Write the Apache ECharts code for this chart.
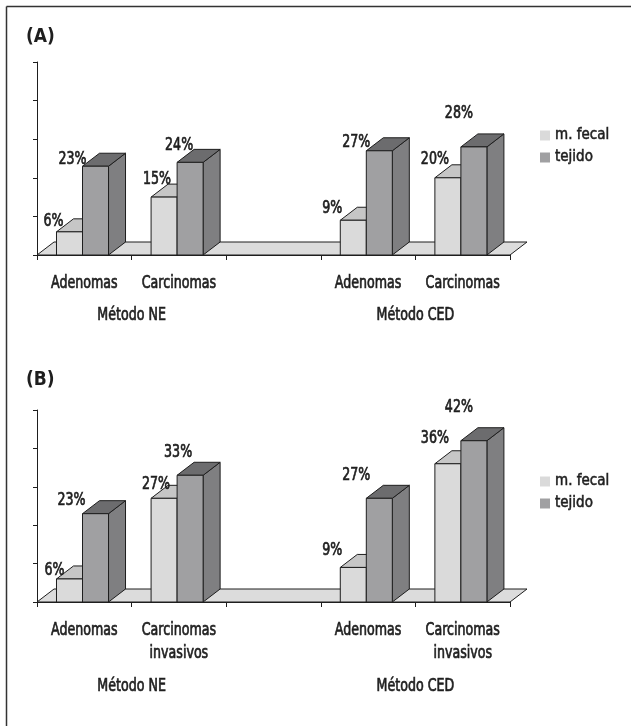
<!DOCTYPE html>
<html>
<head>
<meta charset="utf-8">
<script src="https://cdn.jsdelivr.net/npm/echarts@6/dist/echarts.min.js"></script>
<style>
  html, body { margin: 0; padding: 0; background: #fff; }
  #chart { width: 631px; height: 726px; }
</style>
</head>
<body>
<div id="chart"></div>
<script>
// ---- data ----
const categoriesA = ['Adenomas', 'Carcinomas', '', 'Adenomas', 'Carcinomas'];
const categoriesB = ['Adenomas', 'Carcinomas\ninvasivos', '', 'Adenomas', 'Carcinomas\ninvasivos'];
const groupNames = ['Método NE', 'Método CED'];
const groupSpans = [[0, 1], [3, 4]];
const seriesNames = ['m. fecal', 'tejido'];
const fecalA = [6, 15, null, 9, 20];
const tejidoA = [23, 24, null, 27, 28];
const fecalB = [6, 27, null, 9, 36];
const tejidoB = [23, 33, null, 27, 42];
const valueTicks = [0, 10, 20, 30, 40, 50];

// ---- layout / style ----
const FONT = '"DejaVu Sans Condensed", "Liberation Sans Narrow", sans-serif';
const TEXT_FONT = '18px ' + FONT;
const NARROW = 0.78;                   // horizontal squeeze for a condensed look
const INK = '#1e1e1e';
const DEPTH_X = 17, DEPTH_Y = 13;      // oblique depth of the pseudo-3D boxes
const BAR_W = 0.275;                   // bar width as share of a category band
const FRONT_OFF = -0.294;              // first bar's left edge, relative to band centre
const palette = {
  'm. fecal': { front: '#dadada', top: '#c6c6c6', side: '#b4b4b4' },
  'tejido':   { front: '#a0a0a2', top: '#6c6c6e', side: '#7f7f81' }
};
// label nudges [dx, dy] from the bar's front-top-left corner
const nudgeA = {
  'm. fecal': [[-3, -11], [6, -18], null, [-8, -12], [0, -18]],
  'tejido':   [[-10, -7], [2, -17], null, [-10, -8], [-2, -34]]
};
const nudgeB = {
  'm. fecal': [[-2, -9], [5, -14], null, [-8, -17], [0, -25]],
  'tejido':   [[-11, -13], [1, -23], null, [-10, -23], [-2, -33]]
};

function toData(arr) {
  return arr.map((v, i) => (v == null ? null : [i, v])).filter(Boolean);
}

function narrowText(x, y, text) {
  return {
    type: 'text', x, y, scaleX: NARROW, z2: 100,
    style: { text, fill: INK, stroke: INK, lineWidth: 0.7, font: TEXT_FONT,
             align: 'center', verticalAlign: 'middle' }
  };
}

function barRenderer(name, slot, nudges) {
  const col = palette[name];
  return function (params, api) {
    const idx = api.value(0);
    const v = api.value(1);
    const top = api.coord([idx, v]);
    const base = api.coord([idx, 0]);
    const band = api.size([1, 0])[0];
    const w = band * BAR_W;
    const x0 = top[0] + (FRONT_OFF + slot * BAR_W) * band;
    const x1 = x0 + w;
    const yt = top[1], yb = base[1];
    const stroke = { stroke: INK, lineWidth: 1 };
    const n = nudges[name][idx] || [0, -12];
    return {
      type: 'group',
      children: [
        { type: 'polygon', shape: { points: [[x1, yt], [x1 + DEPTH_X, yt - DEPTH_Y], [x1 + DEPTH_X, yb - DEPTH_Y], [x1, yb]] },
          style: Object.assign({ fill: col.side }, stroke) },
        { type: 'polygon', shape: { points: [[x0, yt], [x1, yt], [x1 + DEPTH_X, yt - DEPTH_Y], [x0 + DEPTH_X, yt - DEPTH_Y]] },
          style: Object.assign({ fill: col.top }, stroke) },
        { type: 'rect', shape: { x: x0, y: yt, width: w, height: yb - yt },
          style: Object.assign({ fill: col.front }, stroke) },
        narrowText(x0 + n[0], yt + n[1], v + '%')
      ]
    };
  };
}

function floorRenderer(params, api) {
  const cs = params.coordSys;
  const yb = cs.y + cs.height, xl = cs.x, xr = cs.x + cs.width;
  return {
    type: 'polygon',
    shape: { points: [[xl, yb], [xr, yb], [xr + DEPTH_X, yb - DEPTH_Y], [xl + DEPTH_X, yb - DEPTH_Y]] },
    style: { fill: '#dcdcdc', stroke: INK, lineWidth: 1 }
  };
}

// category names under each band (may span two lines)
function categoryRenderer(cats) {
  return function (params, api) {
    const idx = api.value(0);
    const p = api.coord([idx, 0]);
    const t = narrowText(p[0], p[1] + 17, cats[idx]);
    t.style.verticalAlign = 'top';
    t.style.lineHeight = 23;
    return t;
  };
}

function groupRenderer(offset) {
  return function (params, api) {
    const span = groupSpans[params.dataIndex];
    const a = api.coord([span[0], 0]);
    const b = api.coord([span[1], 0]);
    return narrowText((a[0] + b[0]) / 2, a[1] + offset, groupNames[params.dataIndex]);
  };
}

function xAxisFor(gridIndex, cats) {
  return {
    type: 'category', gridIndex, data: cats,
    axisLine: { lineStyle: { color: INK, width: 1 } },
    axisTick: { show: true, length: 5, interval: 0, lineStyle: { color: INK } },
    axisLabel: { show: false },
    splitLine: { show: false }
  };
}
function yAxisFor(gridIndex) {
  return {
    type: 'value', gridIndex, min: valueTicks[0], max: valueTicks[valueTicks.length - 1],
    interval: valueTicks[1] - valueTicks[0],
    axisLine: { show: true, lineStyle: { color: INK, width: 1 } },
    axisTick: { show: true, length: 4, lineStyle: { color: INK } },
    axisLabel: { show: false },
    splitLine: { show: false }
  };
}

const series = [];
[[0, categoriesA, fecalA, tejidoA, nudgeA, 60], [1, categoriesB, fecalB, tejidoB, nudgeB, 84]]
  .forEach(([g, cats, fecal, tejido, nudges, groupOffset]) => {
    series.push({ type: 'custom', name: 'floor' + g, xAxisIndex: g, yAxisIndex: g, z: 1, clip: false,
      silent: true, renderItem: floorRenderer, data: [[0, 0]] });
    [fecal, tejido].forEach((arr, slot) => {
      const name = seriesNames[slot];
      series.push({ type: 'custom', name, xAxisIndex: g, yAxisIndex: g, z: 2, clip: false,
        itemStyle: { color: palette[name].front },
        renderItem: barRenderer(name, slot, nudges), data: toData(arr) });
    });
    series.push({ type: 'custom', name: 'categories' + g, xAxisIndex: g, yAxisIndex: g, z: 3, clip: false,
      silent: true, renderItem: categoryRenderer(cats),
      data: cats.map((c, i) => (c ? [i, 0] : null)).filter(Boolean) });
    series.push({ type: 'custom', name: 'groups' + g, xAxisIndex: g, yAxisIndex: g, z: 3, clip: false,
      silent: true, renderItem: groupRenderer(groupOffset), data: groupSpans.map(s => [s[0], 0]) });
  });

const legendBase = {
  data: seriesNames, orient: 'vertical', left: 540, padding: 0,
  icon: 'rect', itemWidth: 10, itemHeight: 10, itemGap: 5,
  textStyle: { color: INK, fontFamily: FONT, fontSize: 15, lineHeight: 17,
               textBorderColor: INK, textBorderWidth: 0.5 },
  selectedMode: false
};

const chart = echarts.init(document.getElementById('chart'), null, { renderer: 'canvas' });
chart.setOption({
  backgroundColor: '#ffffff',
  animation: false,
  grid: [
    { left: 37, top: 62, width: 473, height: 193 },
    { left: 37, top: 410, width: 473, height: 192 }
  ],
  xAxis: [xAxisFor(0, categoriesA), xAxisFor(1, categoriesB)],
  yAxis: [yAxisFor(0), yAxisFor(1)],
  legend: [
    Object.assign({}, legendBase, { top: 127 }),
    Object.assign({}, legendBase, { top: 473 })
  ],
  graphic: [
    { type: 'line', shape: { x1: 6.5, y1: 6.5, x2: 631, y2: 6.5 }, style: { stroke: '#333', lineWidth: 1.5 } },
    { type: 'line', shape: { x1: 6.5, y1: 6.5, x2: 6.5, y2: 726 }, style: { stroke: '#333', lineWidth: 1.5 } },
    { type: 'text', left: 26, top: 28, style: { text: '(A)', fill: INK, font: 'bold 19px ' + FONT } },
    { type: 'text', left: 26, top: 371, style: { text: '(B)', fill: INK, font: 'bold 19px ' + FONT } }
  ],
  series
});
</script>
</body>
</html>
